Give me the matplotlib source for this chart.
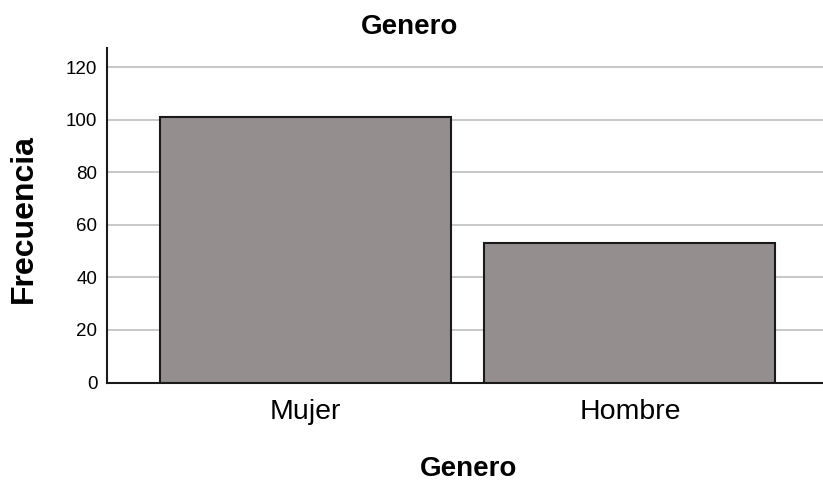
import matplotlib
matplotlib.use("Agg")
import matplotlib.pyplot as plt

plt.rcParams["font.family"] = ["Liberation Sans", "DejaVu Sans"]

categories = ["Mujer", "Hombre"]
frecuencia = [101, 53]
yticks = [0, 20, 40, 60, 80, 100, 120]

W, H = 823, 482
fig = plt.figure(figsize=(W / 100, H / 100), dpi=100)
ax = fig.add_axes([107 / W, 1 - 382.5 / H, 1 - 107 / W, (382.5 - 48) / H])

x = range(len(categories))
ax.bar(x, frecuencia, width=0.897, color="#948f8e", edgecolor="#1a1a1a",
       linewidth=1.5, zorder=3)

ax.set_xlim(-0.612, 1.595)
ax.set_ylim(0, 127.4)
ax.set_yticks(yticks)
ax.set_xticks(list(x))
ax.set_xticklabels(categories, fontsize=20.5)
ax.tick_params(axis="y", labelsize=13.5, length=0, pad=7)
ax.tick_params(axis="x", length=0, pad=12)

ax.yaxis.grid(True, color="#c4c4c4", linewidth=1.3, zorder=0)
for side in ["top", "right"]:
    ax.spines[side].set_visible(False)
for side in ["left", "bottom"]:
    ax.spines[side].set_linewidth(1.5)
    ax.spines[side].set_color("#1a1a1a")

# Titles placed in pixel terms of the figure
fig.text(409.5 / W, 1 - 34 / H, "Genero", fontsize=20, fontweight="bold",
         ha="center", va="baseline")
fig.text(468.5 / W, 1 - 476 / H, "Genero", fontsize=20, fontweight="bold",
         ha="center", va="baseline")
fig.text(24 / W, 1 - 218.5 / H, "Frecuencia", fontsize=23, fontweight="bold",
         ha="center", va="center", rotation=90)

fig.savefig("out.png", dpi=100)
